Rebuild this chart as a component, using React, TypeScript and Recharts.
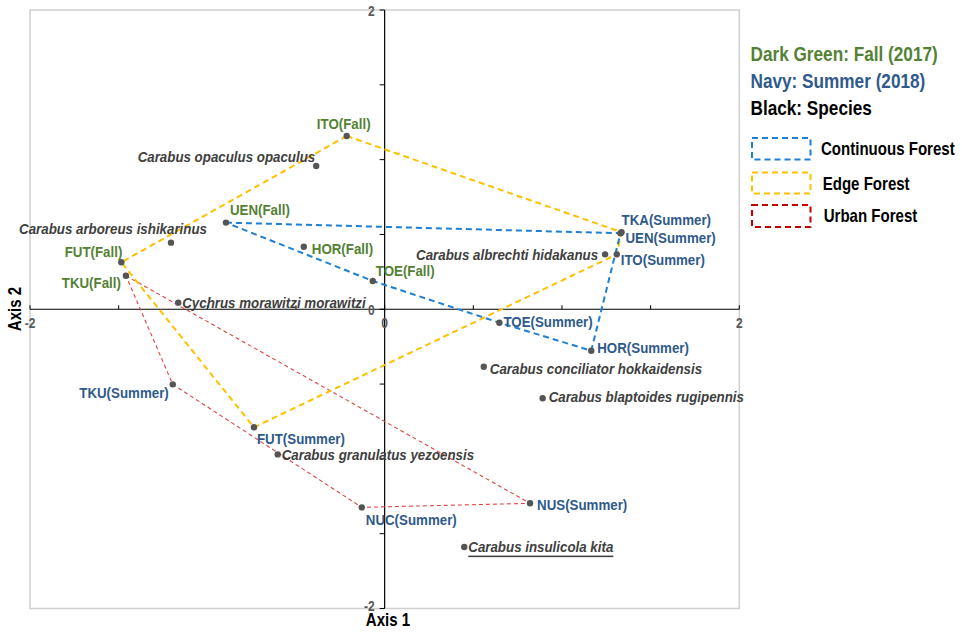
import React from "react";
import { ScatterChart, Scatter, XAxis, YAxis, ReferenceLine, ReferenceArea } from "recharts";

// ---------- data ----------
const fallSites = ["ITO", "UEN", "HOR", "FUT", "TKU", "TOE"];
const fallX = [-0.214, -0.895, -0.456, -1.485, -1.459, -0.067];
const fallY = [1.158, 0.579, 0.418, 0.314, 0.224, 0.189];

const summerSites = ["TKA", "UEN", "ITO", "TOE", "HOR", "TKU", "FUT", "NUS", "NUC"];
const summerX = [1.336, 1.33, 1.309, 0.647, 1.165, -1.195, -0.737, 0.82, -0.129];
const summerY = [0.515, 0.508, 0.367, -0.09, -0.277, -0.502, -0.789, -1.297, -1.324];

const speciesNames = [
  "Carabus opaculus opaculus",
  "Carabus arboreus ishikarinus",
  "Cychrus morawitzi morawitzi",
  "Carabus albrechti hidakanus",
  "Carabus conciliator hokkaidensis",
  "Carabus blaptoides rugipennis",
  "Carabus granulatus yezoensis",
  "Carabus insulicola kita",
];
const speciesX = [-0.386, -1.205, -1.164, 1.243, 0.559, 0.891, -0.603, 0.449];
const speciesY = [0.957, 0.445, 0.044, 0.367, -0.384, -0.595, -0.97, -1.589];

const continuousHull = ["UEN(Fall)", "UEN(Summer)", "HOR(Summer)", "TOE(Summer)", "TOE(Fall)", "UEN(Fall)"];
const edgeHull = ["ITO(Fall)", "TKA(Summer)", "ITO(Summer)", "FUT(Summer)", "FUT(Fall)", "ITO(Fall)"];
const urbanHull = ["TKU(Fall)", "NUS(Summer)", "NUC(Summer)", "TKU(Summer)", "TKU(Fall)"];

const axisTicks = [-2, -1.5, -1, -0.5, 0, 0.5, 1, 1.5, 2];
const labeledTicks = [-2, 0, 2];

const legendTitles = ["Dark Green: Fall (2017)", "Navy: Summer (2018)", "Black: Species"];
const legendGroups = ["Continuous Forest", "Edge Forest", "Urban Forest"];

// ---------- styles ----------
const GREEN = "#548235";
const NAVY = "#2F5A8A";
const SPECIES = "#404040";
const DOT = "#555555";
const BLUE = "#1F7FD2";
const YELLOW = "#FFC000";
const RED = "#E04545";
const SX = 0.86;
const FONT = "'Liberation Sans', Arial, sans-serif";

// label placement: [anchor, dx, dy] in px
const labelPlacement: Record<string, [string, number, number]> = {
  "ITO(Fall)": ["middle", -3, -12],
  "UEN(Fall)": ["start", 4, -13],
  "HOR(Fall)": ["start", 8, 2],
  "FUT(Fall)": ["end", 1, -11],
  "TKU(Fall)": ["end", -5, 7],
  "TOE(Fall)": ["start", 3, -10],
  "TKA(Summer)": ["start", 0, -13],
  "UEN(Summer)": ["start", 5, 4],
  "ITO(Summer)": ["start", 4, 5],
  "TOE(Summer)": ["start", 4, -1],
  "HOR(Summer)": ["start", 6, -3],
  "TKU(Summer)": ["end", -4, 8],
  "FUT(Summer)": ["start", 3, 11],
  "NUS(Summer)": ["start", 7, 1],
  "NUC(Summer)": ["start", 4, 12],
  "Carabus opaculus opaculus": ["end", -1, -9],
  "Carabus arboreus ishikarinus": ["end", 36, -14],
  "Cychrus morawitzi morawitzi": ["start", 4, 0],
  "Carabus albrechti hidakanus": ["end", -7, 0],
  "Carabus conciliator hokkaidensis": ["start", 6, 2],
  "Carabus blaptoides rugipennis": ["start", 6, -2],
  "Carabus granulatus yezoensis": ["start", 4, 0],
  "Carabus insulicola kita": ["start", 4, 0],
};
const underlined = new Set(["Carabus insulicola kita"]);

// ---------- derived ----------
const fallData = fallSites.map((s, i) => ({ name: `${s}(Fall)`, x: fallX[i], y: fallY[i] }));
const summerData = summerSites.map((s, i) => ({ name: `${s}(Summer)`, x: summerX[i], y: summerY[i] }));
const speciesData = speciesNames.map((s, i) => ({ name: s, x: speciesX[i], y: speciesY[i] }));
const byName: Record<string, { x: number; y: number }> = {};
[...fallData, ...summerData].forEach((p) => (byName[p.name] = p));
const hull = (names: string[]) => names.map((n) => ({ name: n, x: byName[n].x, y: byName[n].y }));

const xTickData = axisTicks.map((t) => ({ x: t, y: 0, v: t }));
const yTickData = axisTicks.map((t) => ({ x: 0, y: t, v: t }));

function SText(props: any) {
  const { x, y, anchor = "start", size, weight = 700, italic = false, fill, children, underline = false, rotate = 0 } = props;
  return (
    <text
      transform={`translate(${x},${y}) rotate(${rotate}) scale(${SX},1)`}
      x={0}
      y={0}
      textAnchor={anchor}
      dominantBaseline="central"
      fontFamily={FONT}
      fontSize={size}
      fontWeight={weight}
      fontStyle={italic ? "italic" : "normal"}
      fill={fill}
      textDecoration={underline ? "underline" : undefined}
    >
      {children}
    </text>
  );
}

const makePointShape = (color: string, italic: boolean) => (props: any) => {
  const { cx, cy, payload } = props;
  const pl = labelPlacement[payload.name] || ["start", 5, 0];
  return (
    <g>
      <circle cx={cx} cy={cy} r={3.2} fill={DOT} />
      <SText
        x={cx + pl[1]}
        y={cy + pl[2]}
        anchor={pl[0]}
        size={italic ? 15.5 : 15.5}
        italic={italic}
        fill={color}
        underline={underlined.has(payload.name)}
      >
        {payload.name}
      </SText>
    </g>
  );
};

const noShape = () => <g />;

const xTickShape = (props: any) => {
  const { cx, cy, payload } = props;
  return (
    <g>
      <line x1={cx} y1={cy} x2={cx} y2={cy - 4} stroke="#000" strokeWidth={1} />
      {labeledTicks.includes(payload.v) && (
        <SText x={cx} y={cy + 14} anchor="middle" size={14} fill="#595959">
          {String(payload.v)}
        </SText>
      )}
    </g>
  );
};

const yTickShape = (props: any) => {
  const { cx, cy, payload } = props;
  return (
    <g>
      <line x1={cx - 5} y1={cy} x2={cx} y2={cy} stroke="#000" strokeWidth={1} />
      {labeledTicks.includes(payload.v) && (
        <SText x={cx - 10} y={cy + (payload.v === 2 ? 1 : payload.v === -2 ? -2 : 1)} anchor="end" size={14} fill="#595959">
          {String(payload.v)}
        </SText>
      )}
    </g>
  );
};

const legendColors = [GREEN, NAVY, "#000"];
const groupColors = [BLUE, YELLOW, "#C00000"];

export default function App() {
  return (
    <div style={{ position: "absolute", left: 0, top: 0, width: 962, height: 632, background: "#fff" }}>
      <ScatterChart width={962} height={632} margin={{ top: 10, right: 222.7, bottom: 23.5, left: 30 }}>
        <XAxis type="number" dataKey="x" domain={[-2, 2]} hide />
        <YAxis type="number" dataKey="y" domain={[-2, 2]} hide />
        <ReferenceArea x1={-2} x2={2} y1={-2} y2={2} fill="none" stroke="#d0d0d0" strokeWidth={1.5} />
        <ReferenceLine x={0} stroke="#000" strokeWidth={1.2} />
        <ReferenceLine y={0} stroke="#000" strokeWidth={1.2} />
        <Scatter data={xTickData} shape={xTickShape} isAnimationActive={false} />
        <Scatter data={yTickData} shape={yTickShape} isAnimationActive={false} />
        <Scatter
          data={hull(urbanHull)}
          shape={noShape}
          line={{ stroke: RED, strokeWidth: 1.1, strokeDasharray: "4 3" }}
          isAnimationActive={false}
        />
        <Scatter
          data={hull(edgeHull)}
          shape={noShape}
          line={{ stroke: YELLOW, strokeWidth: 2, strokeDasharray: "6 4" }}
          isAnimationActive={false}
        />
        <Scatter
          data={hull(continuousHull)}
          shape={noShape}
          line={{ stroke: BLUE, strokeWidth: 2, strokeDasharray: "6 4" }}
          isAnimationActive={false}
        />
        <Scatter data={speciesData} shape={makePointShape(SPECIES, true)} isAnimationActive={false} />
        <Scatter data={fallData} shape={makePointShape(GREEN, false)} isAnimationActive={false} />
        <Scatter data={summerData} shape={makePointShape(NAVY, false)} isAnimationActive={false} />
      </ScatterChart>
      <svg width={962} height={632} style={{ position: "absolute", left: 0, top: 0, pointerEvents: "none" }}>
        <SText x={388} y={620} anchor="middle" size={17.5} fill="#000">Axis 1</SText>
        <SText x={15} y={309} anchor="middle" size={17.5} fill="#000" rotate={-90}>Axis 2</SText>
        {legendTitles.map((t, i) => (
          <SText key={t} x={750.5} y={54.5 + i * 26.6} size={20} fill={legendColors[i]}>
            {t}
          </SText>
        ))}
        {legendGroups.map((g, i) => (
          <g key={g}>
            <rect
              x={752}
              y={[138, 172.5, 205][i]}
              width={58.5}
              height={[21.5, 21, 22][i]}
              fill="none"
              stroke={groupColors[i]}
              strokeWidth={2}
              strokeDasharray="6 4"
            />
            <SText x={[821, 822.7, 823.7][i]} y={[149, 183.7, 215.7][i]} size={17.5} fill="#000">
              {g}
            </SText>
          </g>
        ))}
      </svg>
    </div>
  );
}
